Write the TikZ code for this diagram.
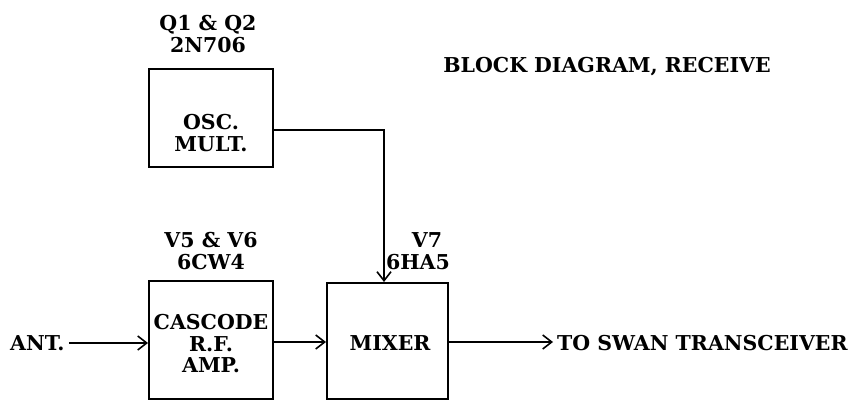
\documentclass[tikz,border=0pt]{standalone}
\usepackage{fontspec}
\setmainfont{DejaVu Serif}
\usetikzlibrary{arrows.meta,calc}
\begin{document}
\begin{tikzpicture}[x=1pt,y=-1pt,
  blk/.style={draw,line width=2pt,inner sep=0pt},
  lbl/.style={font=\fontsize{20.5}{21.5}\selectfont\bfseries,inner sep=0pt,align=center},
  conn/.style={line width=1.6pt,-{Straight Barb[length=9pt,width=14pt,line width=1.6pt]}}]
\useasboundingbox (0,0) rectangle (863,403);
% boxes
\node[blk,minimum width=124pt,minimum height=98pt] (osc) at (211,118) {};
\node[blk,minimum width=124pt,minimum height=118pt] (casc) at (211,340) {};
\node[blk,minimum width=121pt,minimum height=116pt] (mixer) at (387.5,341) {};
% box texts
\node[lbl] (osct) at (211,133) {OSC.\\MULT.};
\node[lbl] (casct) at (211,344) {CASCODE\\R.F.\\AMP.};
\node[lbl] (mixt) at (390,343) {MIXER};
% tube labels
\node[lbl] (q) at (208,34) {Q1 \& Q2\\2N706};
\node[lbl] (v56) at (211,251) {V5 \& V6\\6CW4};
\node[lbl] (v7) at (427,240) {V7};
\node[lbl] (v7t) at (418,262) {6HA5};
\node[lbl] (title) at (607,67) {BLOCK DIAGRAM, RECEIVE};
\node[lbl,anchor=west] (ant) at (10,343) {ANT.};
\node[lbl,anchor=west] (out) at (557,343) {TO SWAN TRANSCEIVER};
% connectors
\draw[conn] ([xshift=4pt]ant.east) -- (ant.east -| casc.west);
\draw[conn] (casc.east |- 0,342) -- (mixer.west |- 0,342);
\draw[conn] (mixer.east |- 0,342) -- ([xshift=-4pt]out.west |- 0,342);
\coordinate (oscout) at ($(osc.north east)!0.62!(osc.south east)$);
\coordinate (mixin) at ($(mixer.north)+(-3.5,0)$);
\draw[conn] (oscout) -| (mixin);
\end{tikzpicture}
\end{document}
